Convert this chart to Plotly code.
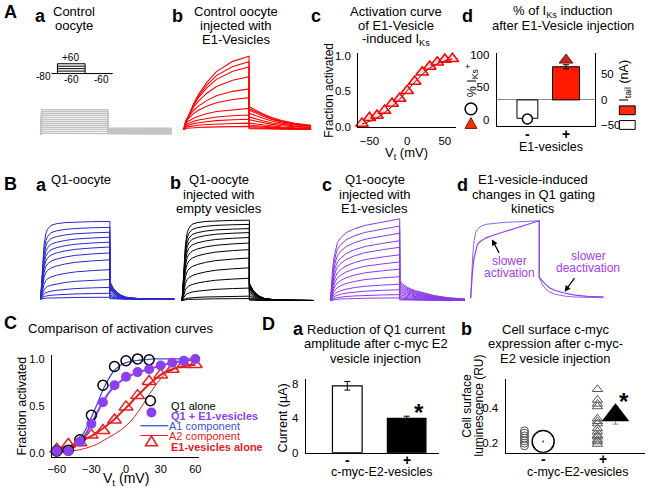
import numpy as np
import plotly.graph_objects as go

W, H = 656, 490
FONT = "Liberation Sans, Arial, sans-serif"

# ---------------------------------------------------------------- data
# time base of the current records (s): test pulse 0-2 s, then tail pulse
t_step = [0, 0.03, 0.06, 0.1, 0.15, 0.2, 0.3, 0.45, 0.7, 1.0, 1.5, 2.0]
t_tail = [0, 0.05, 0.1, 0.2, 0.3, 0.45, 0.7, 1.0, 1.4, 1.9]

# A a  control oocyte (leak only), normalised levels
aa_step = [1.0, 0.92, 0.84, 0.76, 0.68, 0.6, 0.52, 0.44, 0.36, 0.28, 0.2, 0.12, 0.04]
aa_tail = [0.25, 0.23, 0.21, 0.19, 0.17, 0.15, 0.13, 0.11, 0.09, 0.07, 0.05, 0.03, 0.01]

# A b  control oocyte injected with E1 vesicles
ab_amp = [1.0, 0.924, 0.853, 0.72, 0.556, 0.436, 0.289, 0.2, 0.142, 0.089, 0.044]
ab_hi = [0, 0.03, 0.07, 0.12, 0.18, 0.24, 0.35, 0.48, 0.64, 0.79, 0.93, 1.0]
ab_lo = [0, 0.3, 0.4, 0.45, 0.5, 0.55, 0.62, 0.7, 0.8, 0.88, 0.95, 1.0]
ab_tail = [1, 0.97, 0.93, 0.85, 0.78, 0.68, 0.53, 0.4, 0.28, 0.19]
ab_tail_peak = 0.31

# A c  activation curve of E1-vesicle induced IKs
ac_v = [-60, -50, -40, -30, -20, -10, 0, 10, 20, 30, 40, 50, 60]
ac_frac = [0.05, 0.13, 0.16, 0.23, 0.33, 0.40, 0.51, 0.64, 0.77, 0.85, 0.91, 0.95, 0.96]
ac_fit = [0.04, 0.08, 0.13, 0.2, 0.29, 0.39, 0.51, 0.63, 0.74, 0.83, 0.89, 0.93, 0.96]

# A d  % IKs induction and tail current
ad_groups = ["-", "+"]
ad_itail = [-36, 65]
ad_itail_err = [0, 4]
ad_pct = [1, 92]

# B a / B b  Q1 alone, Q1 + empty vesicles
ba_amp = [1.0, 0.924, 0.861, 0.797, 0.734, 0.671, 0.595, 0.506, 0.38, 0.253, 0.152, 0.076, 0.025]
bb_amp = [1.0, 0.948, 0.896, 0.846, 0.785, 0.716, 0.634, 0.529, 0.407, 0.277, 0.155, 0.054, 0.024]
q1_hi = [0, 0.25, 0.5, 0.7, 0.84, 0.9, 0.95, 0.97, 0.985, 0.993, 0.998, 1.0]
q1_lo = [0, 0.15, 0.28, 0.4, 0.5, 0.56, 0.63, 0.71, 0.8, 0.88, 0.95, 1.0]
q1_tail = [1, 0.8, 0.62, 0.4, 0.25, 0.12, 0.05, 0.02, 0.01, 0.0]
ba_tail_peak = 0.23
bb_tail_peak = 0.22

# B c  Q1 + E1 vesicles
bc_amp = [1.0, 0.912, 0.824, 0.732, 0.652, 0.56, 0.472, 0.384, 0.292, 0.2, 0.132, 0.072, 0.032]
bc_hi = [0, 0.2, 0.38, 0.52, 0.63, 0.71, 0.77, 0.83, 0.88, 0.92, 0.96, 1.0]
bc_lo = [0, 0.1, 0.2, 0.3, 0.4, 0.47, 0.56, 0.66, 0.77, 0.86, 0.94, 1.0]
bc_tail = [1, 0.9, 0.82, 0.7, 0.6, 0.5, 0.38, 0.25, 0.14, 0.07]
bc_tail_peak = 0.24

# B d  normalised superimposed records
bd_fast = [0, 0.3, 0.55, 0.75, 0.85, 0.89, 0.93, 0.955, 0.97, 0.98, 0.99, 1.0]
bd_slow = [0, 0.2, 0.38, 0.52, 0.63, 0.7, 0.74, 0.78, 0.82, 0.86, 0.93, 1.0]
bd_fast_tail = [1, 0.8, 0.63, 0.42, 0.3, 0.2, 0.11, 0.06, 0.03, 0.02]
bd_slow_tail = [1, 0.9, 0.8, 0.64, 0.5, 0.38, 0.26, 0.16, 0.09, 0.06]
bd_tail_peak = 0.27

# C  activation curves
c_v = [-60, -50, -40, -30, -20, -10, 0, 10, 20, 30, 40, 50, 60]
c_q1_v = [-60, -50, -40, -30, -20, -10, 0, 10, 20]
c_q1 = [0.02, 0.03, 0.14, 0.40, 0.72, 0.92, 0.98, 1.0, 0.99]
c_q1e1 = [0.02, 0.02, 0.12, 0.31, 0.54, 0.72, 0.81, 0.86, 0.89, 0.93, 0.96, 0.98, 1.0]
c_e1 = [0.04, 0.09, 0.11, 0.19, 0.24, 0.35, 0.49, 0.61, 0.76, 0.83, 0.89, 0.94, 0.94]
fit_v = list(range(-60, 65, 5))
fit_a1 = [0.01, 0.02, 0.04, 0.08, 0.15, 0.25, 0.38, 0.52, 0.67, 0.79, 0.88, 0.93, 0.96,
          0.975, 0.985, 0.99, 0.995, 1.0, 1.0, 1.0, 1.0, 1.0, 1.0, 1.0, 1.0]
fit_q1e1 = [0.02, 0.025, 0.04, 0.07, 0.12, 0.2, 0.31, 0.43, 0.54, 0.64, 0.71, 0.76, 0.8,
            0.83, 0.855, 0.875, 0.895, 0.91, 0.93, 0.945, 0.96, 0.97, 0.98, 0.985, 0.99]
fit_e1 = [0.04, 0.05, 0.07, 0.09, 0.12, 0.15, 0.18, 0.22, 0.26, 0.31, 0.36, 0.42, 0.48,
          0.545, 0.61, 0.67, 0.73, 0.785, 0.83, 0.865, 0.89, 0.91, 0.925, 0.935, 0.94]
fit_a2 = [0.005, 0.01, 0.015, 0.025, 0.035, 0.05, 0.07, 0.095, 0.13, 0.165, 0.2, 0.24, 0.29,
          0.35, 0.43, 0.52, 0.62, 0.71, 0.79, 0.85, 0.88, 0.905, 0.92, 0.93, 0.93]

# D a  current amplitude (uA)
da_current = [7.8, 4.0]
da_err = [0.5, 0.25]

# D b  cell surface luminescence (RU)
db_minus = [0.268, 0.254, 0.239, 0.226, 0.211, 0.198, 0.183]
db_plus = [0.504, 0.443, 0.421, 0.406, 0.337, 0.322, 0.309, 0.281, 0.263, 0.244,
           0.235, 0.217, 0.207, 0.193]
db_mean = [0.207, 0.356]
db_sem = [0.006, 0.05]

RED = "#ff0000"
BLUE = "#2a2acc"
PURPLE = "#8a3be6"
C_PURPLE = "#8b3ff0"
C_BLUE = "#3b4fe0"
C_RED = "#e52020"


# ---------------------------------------------------------------- helpers
def px(x):
    return x / W


def py(y):
    return 1 - y / H


fig = go.Figure()
layout = {}
anns = []
shapes = []


def axes(i, xd, yd, xr, yr, show=False, xkw=None, ykw=None):
    """create x/y axis pair number i on a pixel box"""
    base = dict(showgrid=False, zeroline=False, fixedrange=True, ticks="",
                showline=show, visible=show, linecolor="black", linewidth=1,
                tickfont=dict(family=FONT, size=11.5, color="black"))
    xa = dict(base, domain=[px(xd[0]), px(xd[1])], range=xr, anchor="y%d" % i)
    ya = dict(base, domain=[py(yd[1]), py(yd[0])], range=yr, anchor="x%d" % i)
    xa.update(xkw or {})
    ya.update(ykw or {})
    layout["xaxis%d" % i] = xa
    layout["yaxis%d" % i] = ya
    return "x%d" % i, "y%d" % i


def txt(s, x, y, size=13, color="black", bold=False, angle=0, anchor="center"):
    if bold:
        s = "<b>%s</b>" % s
    anns.append(dict(text=s, x=px(x), y=py(y), xref="paper", yref="paper",
                     showarrow=False, xanchor=anchor, yanchor="middle",
                     textangle=angle,
                     font=dict(family=FONT, size=size, color=color)))


def group_labels(xref, labels, y, size=14):
    # "-" / "+" under the categories 1 and 2 of a panel
    for k, s in enumerate(labels):
        anns.append(dict(text="<b>%s</b>" % s, x=k + 1, y=py(y), xref=xref, yref="paper",
                         showarrow=False, xanchor="center", yanchor="middle",
                         font=dict(family=FONT, size=size, color="black")))


def lines(lines_, x, y0, step=14.5, size=13):
    for k, s in enumerate(lines_):
        txt(s, x, y0 + k * step, size=size)


def line_shape(x0, y0, x1, y1, color="black", width=1):
    shapes.append(dict(type="line", xref="paper", yref="paper",
                       x0=px(x0), y0=py(y0), x1=px(x1), y1=py(y1),
                       line=dict(color=color, width=width)))


def sweeps(xa, ya, amps, hi, lo, tail, tail_peak, color, width=1):
    t = np.concatenate([t_step, 2.0 + np.array(t_tail)])
    hi, lo, tail = np.array(hi), np.array(lo), np.array(tail)
    for a in amps:
        act = a * (a * hi + (1 - a) * lo)
        y = np.concatenate([act, a * tail_peak * tail])
        fig.add_trace(go.Scatter(x=t, y=y, mode="lines", xaxis=xa, yaxis=ya,
                                 line=dict(color=color, width=width),
                                 hoverinfo="skip", showlegend=False))


# ---------------------------------------------------------------- A a
xa, ya = axes(1, (35, 172), (100, 150), [-0.059, 3.97], [-0.68, 1.32])
t_full = np.concatenate([t_step, 2.0 + np.array(t_tail)])
for s_lev, t_lev in zip(aa_step, aa_tail):
    y = [0] + [s_lev] * (len(t_step) - 1) + [t_lev] * len(t_tail)
    fig.add_trace(go.Scatter(x=t_full, y=y, mode="lines", xaxis=xa, yaxis=ya,
                             line=dict(color="#c4c4c4", width=1.4),
                             hoverinfo="skip", showlegend=False))

# voltage protocol sketch
line_shape(48, 71, 110, 71)
line_shape(54, 61, 54, 71)
line_shape(82, 61, 82, 71)
for yy in (61, 63.5, 66, 68.5):
    line_shape(54, yy, 82, yy)
txt("+60", 67, 55, size=10)
txt("-80", 40, 74.5, size=10)
txt("-60", 68.5, 77, size=10)
txt("-60", 99, 77, size=10)

# ---------------------------------------------------------------- A b
xa, ya = axes(2, (178, 316), (45, 145), [-0.112, 4.07], [-0.223, 1.111])
sweeps(xa, ya, ab_amp, ab_hi, ab_lo, ab_tail, ab_tail_peak, RED, 1.1)

# ---------------------------------------------------------------- A c
xa, ya = axes(3, (358, 457), (50, 126), [-65, 65], [-0.007, 1.041], show=True,
              xkw=dict(tickvals=[-50, 0, 50], ticklabelstandoff=3),
              ykw=dict(tickvals=[0, 0.5, 1.0], tickformat=".1f", ticklabelstandoff=4))
fig.add_trace(go.Scatter(x=ac_v, y=ac_fit, mode="lines", xaxis=xa, yaxis=ya,
                         line=dict(color="black", width=1, shape="spline"),
                         hoverinfo="skip", showlegend=False))
fig.add_trace(go.Scatter(x=ac_v, y=ac_frac, mode="markers", xaxis=xa, yaxis=ya,
                         marker=dict(symbol="triangle-up", size=11,
                                     color="rgba(255,120,120,0.25)",
                                     line=dict(color=RED, width=1.5)),
                         hoverinfo="skip", showlegend=False, cliponaxis=False))

# ---------------------------------------------------------------- A d
layout["xaxis4"] = dict(domain=[px(498), px(597)], range=[0.205, 2.74], anchor="y4",
                        showgrid=False, zeroline=False, fixedrange=True, ticks="",
                        showline=True, linecolor="black", showticklabels=False)
layout["yaxis4"] = dict(domain=[py(125), py(50)], range=[-52, 92], anchor="x4",
                        side="right", showgrid=False, fixedrange=True, ticks="",
                        showline=True, linecolor="black", tickvals=[-50, 0, 50],
                        zeroline=True, zerolinecolor="#8a8a8a", zerolinewidth=1,
                        ticklabelstandoff=3,
                        tickfont=dict(family=FONT, size=11.5, color="black"))
layout["yaxis12"] = dict(domain=[py(125), py(50)], range=[-10.6, 103], anchor="x4",
                         overlaying="y4", side="left", showgrid=False, zeroline=False,
                         fixedrange=True, ticks="", showline=True, linecolor="black",
                         tickvals=[0, 50, 100], ticklabelstandoff=4,
                         tickfont=dict(family=FONT, size=11.5, color="black"))
fig.add_trace(go.Bar(x=[1, 2], y=ad_itail, width=[0.54, 0.7], xaxis="x4", yaxis="y4",
                     marker=dict(color=["white", "#ff1a00"], line=dict(color="black", width=1)),
                     error_y=dict(type="data", array=ad_itail_err, color="black",
                                  thickness=1, width=3),
                     hoverinfo="skip", showlegend=False))
fig.add_trace(go.Scatter(x=[1], y=ad_pct[:1], mode="markers", xaxis="x4", yaxis="y12",
                         marker=dict(symbol="circle", size=10, color="white",
                                     line=dict(color="black", width=1.5)),
                         hoverinfo="skip", showlegend=False, cliponaxis=False))
fig.add_trace(go.Scatter(x=[2], y=ad_pct[1:], mode="markers", xaxis="x4", yaxis="y12",
                         marker=dict(symbol="triangle-up", size=12, color="#c8281c",
                                     line=dict(color="#7a1010", width=1)),
                         hoverinfo="skip", showlegend=False, cliponaxis=False))
group_labels("x4", ad_groups, 133)

# ---------------------------------------------------------------- B a-d
xa, ya = axes(5, (35, 172), (215, 308), [-0.057, 3.857], [-0.084, 1.088])
sweeps(xa, ya, ba_amp, q1_hi, q1_lo, q1_tail, ba_tail_peak, BLUE, 1)
xa, ya = axes(6, (178, 316), (215, 308), [-0.059, 4.0], [-0.065, 1.07])
sweeps(xa, ya, bb_amp, q1_hi, q1_lo, q1_tail, bb_tail_peak, "black", 1)
xa, ya = axes(7, (328, 466), (215, 308), [-0.057, 3.886], [-0.064, 1.052])
sweeps(xa, ya, bc_amp, bc_hi, bc_lo, bc_tail, bc_tail_peak, PURPLE, 1)
xa, ya = axes(8, (468, 606), (215, 308), [-0.107, 3.876], [-0.097, 1.08])
sweeps(xa, ya, [1.0], bd_fast, bd_fast, bd_fast_tail, bd_tail_peak, "#7a6cf0", 1)
sweeps(xa, ya, [1.0], bd_slow, bd_slow, bd_slow_tail, bd_tail_peak, "#9a3ef0", 1.2)
for tx, ty, dx, dy in [(0.62, 0.76, 8, 15), (2.74, 0.084, 11, -15)]:
    anns.append(dict(x=tx, y=ty, xref="x8", yref="y8", ax=dx, ay=dy, text="",
                     showarrow=True, arrowhead=2, arrowsize=1, arrowwidth=1.2,
                     arrowcolor="black"))

# ---------------------------------------------------------------- C
xa, ya = axes(9, (48.3, 197), (358, 462), [-64.3, 63.1], [-0.038, 1.045], show=True,
              xkw=dict(tickvals=[-60, -30, 0, 30, 60], ticklabelstandoff=2,
                       tickfont=dict(family=FONT, size=11, color="black")),
              ykw=dict(tickvals=[0, 0.5, 1.0], tickformat=".1f", ticklabelstandoff=4,
                       tickfont=dict(family=FONT, size=11, color="black")))
for yy, col, wd in [(fit_a2, C_RED, 1), (fit_a1, C_BLUE, 1.3),
                    (fit_e1, C_RED, 2), (fit_q1e1, C_PURPLE, 2)]:
    fig.add_trace(go.Scatter(x=fit_v, y=yy, mode="lines", xaxis=xa, yaxis=ya,
                             line=dict(color=col, width=wd, shape="spline"),
                             hoverinfo="skip", showlegend=False))
fig.add_trace(go.Scatter(x=c_v, y=c_e1, mode="markers", xaxis=xa, yaxis=ya,
                         marker=dict(symbol="triangle-up-open", size=12, color=C_RED,
                                     line=dict(width=1.5)),
                         hoverinfo="skip", showlegend=False, cliponaxis=False))
fig.add_trace(go.Scatter(x=c_q1_v, y=c_q1, mode="markers", xaxis=xa, yaxis=ya,
                         marker=dict(symbol="circle-open", size=10, color="black",
                                     line=dict(width=1.5)),
                         hoverinfo="skip", showlegend=False, cliponaxis=False))
fig.add_trace(go.Scatter(x=c_v, y=c_q1e1, mode="markers", xaxis=xa, yaxis=ya,
                         marker=dict(symbol="circle", size=10, color=C_PURPLE),
                         hoverinfo="skip", showlegend=False, cliponaxis=False))

# legend of C
shapes.append(dict(type="circle", xref="paper", yref="paper", x0=px(143), x1=px(153),
                   y0=py(410), y1=py(400), line=dict(color="black", width=1.5)))
shapes.append(dict(type="circle", xref="paper", yref="paper", x0=px(144), x1=px(154),
                   y0=py(422), y1=py(412), fillcolor=C_PURPLE, line=dict(width=0)))
line_shape(138, 430.5, 166, 430.5, C_BLUE, 1.3)
line_shape(138, 440.5, 166, 440.5, C_RED, 1)
shapes.append(dict(type="path", xref="paper", yref="paper",
                   path="M %f,%f L %f,%f L %f,%f Z" % (px(143), py(451), px(155), py(451),
                                                       px(149), py(441)),
                   line=dict(color=C_RED, width=1.5)))
txt("Q1 alone", 167, 410, size=11, anchor="left")
txt("Q1 + E1-vesicles", 167, 421, size=11, color=C_PURPLE, bold=True, anchor="left")
txt("A1 component", 165, 430.5, size=11, color=C_BLUE, anchor="left")
txt("A2 component", 165, 440.5, size=11, color=C_RED, anchor="left")
txt("E1-vesicles alone", 167, 452, size=11, color=C_RED, bold=True, anchor="left")

# ---------------------------------------------------------------- D a
xa, ya = axes(10, (305, 440), (383, 458), [0.3, 2.55], [0, 8.57], show=True,
              xkw=dict(showticklabels=False),
              ykw=dict(tickvals=[0, 4, 8], ticklabelstandoff=4))
fig.add_trace(go.Bar(x=[1, 2], y=da_current, width=[0.5, 0.65], xaxis=xa, yaxis=ya,
                     marker=dict(color=["white", "black"], line=dict(color="black", width=1.2)),
                     error_y=dict(type="data", array=da_err, color="black",
                                  thickness=1, width=3),
                     hoverinfo="skip", showlegend=False))
group_labels(xa, ad_groups, 465)

# ---------------------------------------------------------------- D b
xa, ya = axes(11, (507, 648), (383, 458), [0.377, 2.69], [0.144, 0.561], show=True,
              xkw=dict(showticklabels=False),
              ykw=dict(tickvals=[0.2, 0.4], tickformat=".1f", ticklabelstandoff=4))
fig.add_trace(go.Scatter(x=[0.69] * len(db_minus), y=db_minus, mode="markers",
                         xaxis=xa, yaxis=ya,
                         marker=dict(symbol="circle-open", size=8, color="#555",
                                     line=dict(width=1)),
                         hoverinfo="skip", showlegend=False))
fig.add_trace(go.Scatter(x=[1.9] * len(db_plus), y=db_plus, mode="markers",
                         xaxis=xa, yaxis=ya,
                         marker=dict(symbol="triangle-up-open", size=9, color="#555",
                                     line=dict(width=1)),
                         hoverinfo="skip", showlegend=False))
fig.add_trace(go.Scatter(x=[1.0], y=db_mean[:1], mode="markers", xaxis=xa, yaxis=ya,
                         error_y=dict(type="data", array=db_sem[:1], color="#444",
                                      thickness=1.5, width=0),
                         marker=dict(symbol="circle-open", size=22, color="black",
                                     line=dict(width=1.5)),
                         hoverinfo="skip", showlegend=False))
fig.add_trace(go.Scatter(x=[2.2], y=db_mean[1:], mode="markers", xaxis=xa, yaxis=ya,
                         error_y=dict(type="data", array=db_sem[1:], color="#888",
                                      thickness=1, width=3),
                         marker=dict(symbol="triangle-up", size=24, color="black"),
                         hoverinfo="skip", showlegend=False))
group_labels(xa, ad_groups, 464)

# ---------------------------------------------------------------- texts
txt("A", 7, 8, size=18, bold=True)
txt("a", 37, 12, size=18, bold=True)
lines(["Control", "oocyte"], 71, 7.5)
txt("b", 175, 12, size=18, bold=True)
lines(["Control oocyte", "injected with", "E1-Vesicles"], 235, 7.5)
txt("c", 315, 12, size=18, bold=True)
lines(["Activation curve", "of E1-Vesicle", "-induced I<sub>Ks</sub>"], 396, 7.5)
txt("d", 468, 12, size=18, bold=True)
lines(["% of I<sub>Ks</sub> induction", "after E1-Vesicle injection"], 565, 7.5)
txt("Fraction activated", 329, 88, size=12, angle=-90)
txt("V<sub>t</sub> (mV)", 407, 153, size=13)
txt("% I<sub>Ks</sub><sup>+</sup>", 473, 78, size=12.5, angle=-90)
txt("I<sub>tail</sub> (nA)", 628, 78, size=12.5, angle=-90)
txt("E1-vesicles", 553, 146, size=12.5)
shapes.append(dict(type="circle", xref="paper", yref="paper", x0=px(466), x1=px(478),
                   y0=py(113), y1=py(101), line=dict(color="black", width=1.5)))
shapes.append(dict(type="path", xref="paper", yref="paper",
                   path="M %f,%f L %f,%f L %f,%f Z" % (px(466), py(127), px(478), py(127),
                                                       px(472), py(116)),
                   fillcolor="#ee3300", line=dict(color="#7a1010", width=1)))
shapes.append(dict(type="rect", xref="paper", yref="paper", x0=px(622), x1=px(638),
                   y0=py(113), y1=py(104), fillcolor="#ff2a10",
                   line=dict(color="black", width=1)))
shapes.append(dict(type="rect", xref="paper", yref="paper", x0=px(622), x1=px(638),
                   y0=py(128), y1=py(119), fillcolor="white",
                   line=dict(color="black", width=1)))

txt("B", 7, 183.5, size=18, bold=True)
txt("a", 38, 185, size=18, bold=True)
txt("Q1-oocyte", 78, 179.5)
txt("b", 173, 183, size=18, bold=True)
lines(["Q1-oocyte", "injected with", "empty vesicles"], 217, 179.5)
txt("c", 326, 185, size=18, bold=True)
lines(["Q1-oocyte", "injected with", "E1-vesicles"], 375, 179.5)
txt("d", 463, 185, size=18, bold=True)
lines(["E1-vesicle-induced", "changes in Q1 gating", "kinetics"], 535, 179.5)
txt("slower", 510.5, 262, size=12, color="#a040f0")
txt("activation", 510.5, 274.5, size=12, color="#a040f0")
txt("slower", 590.5, 257, size=12, color="#a040f0")
txt("deactivation", 590.5, 270, size=12, color="#a040f0")

txt("C", 7, 325.5, size=18, bold=True)
txt("Comparison of activation curves", 22, 331.5, anchor="left")
txt("Fraction activated", 18, 410, size=12.5, angle=-90)
txt("V<sub>t</sub> (mV)", 123, 485, size=14)

txt("D", 267, 326.5, size=18, bold=True)
txt("a", 298, 332, size=18, bold=True)
lines(["Reduction of Q1 current", "amplitude after c-myc E2", "vesicle injection"], 376, 332.5)
txt("Current (µA)", 282, 422, size=12.5, angle=-90)
txt("c-myc-E2-vesicles", 382, 478, size=12.5)
txt("*", 419, 417, size=24, bold=True)

txt("b", 467, 332, size=18, bold=True)
lines(["Cell surface c-myc", "expression after c-myc-", "E2 vesicle injection"], 557, 332.5)
txt("Cell surface", 468, 410, size=12, angle=-90)
txt("luminescence (RU)", 480, 410, size=12, angle=-90)
txt("c-myc-E2-vesicles", 580, 478, size=12.5)
txt("*", 627, 406, size=24, bold=True)

fig.update_layout(width=W, height=H, margin=dict(l=0, r=0, t=0, b=0),
                  paper_bgcolor="white", plot_bgcolor="rgba(0,0,0,0)",
                  font=dict(family=FONT, size=12, color="black"),
                  showlegend=False, annotations=anns, shapes=shapes, barmode="overlay",
                  **layout)
# the page body has an 8px default margin; drop it so the figure sits at 0,0
fig.write_html("out.html", config={"displayModeBar": False},
               post_script="document.body.style.margin='0';")
